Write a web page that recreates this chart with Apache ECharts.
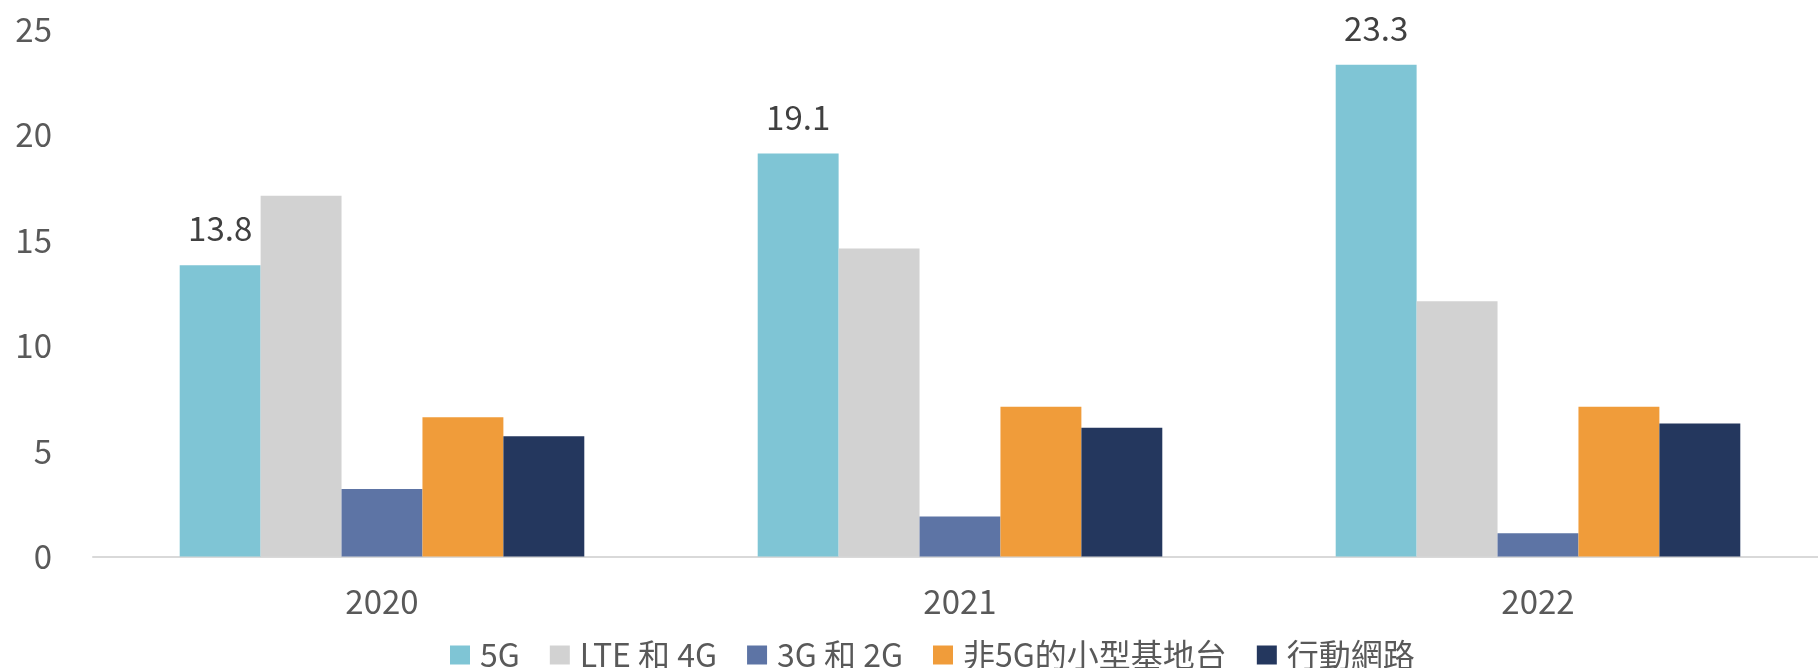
<!DOCTYPE html>
<html>
<head>
<meta charset="utf-8">
<title>全球基地台數量</title>
<script src="https://cdn.jsdelivr.net/npm/echarts@6/dist/echarts.min.js"></script>
<style>
  html, body { margin: 0; padding: 0; background: #ffffff; }
  #chart { width: 1818px; height: 668px; }
</style>
</head>
<body>
<div id="chart"></div>
<script>
// Years on the category axis
const years = ['2020', '2021', '2022'];

// Series values per year
const seriesNames = ['5G', 'LTE 和 4G', '3G 和 2G', '非5G的小型基地台', '行動網路'];
const values5G = [13.8, 19.1, 23.3];
const valuesLTE4G = [17.1, 14.6, 12.1];
const values3G2G = [3.2, 1.9, 1.1];
const valuesSmallCell = [6.6, 7.1, 7.1];
const valuesMobileNet = [5.7, 6.1, 6.3];

// Value axis ticks
const yTicks = [0, 5, 10, 15, 20, 25];

const colors = ['#7fc5d5', '#d2d2d2', '#5d74a5', '#f09c3a', '#24375e'];
const fontFamily = '"Noto Sans CJK TC", "Noto Sans", sans-serif';

const seriesData = [values5G, valuesLTE4G, values3G2G, valuesSmallCell, valuesMobileNet];

const series = seriesNames.map((name, i) => ({
  name: name,
  type: 'bar',
  data: seriesData[i],
  barGap: '0%',
  barCategoryGap: '30%',
  itemStyle: { color: colors[i] },
  label: i === 0 ? {
    show: true,
    position: 'top',
    distance: 20,
    color: '#404040',
    fontSize: 33,
    fontFamily: fontFamily
  } : { show: false }
}));

const chart = echarts.init(document.getElementById('chart'), null, { renderer: 'canvas' });

chart.setOption({
  animation: false,
  backgroundColor: '#ffffff',
  color: colors,
  grid: {
    left: 93,
    top: 29,
    width: 1734,
    bottom: 111.5,
    containLabel: false,
    outerBoundsMode: 'none'
  },
  legend: {
    data: seriesNames,
    left: 445,
    top: 634,
    itemWidth: 20,
    itemHeight: 19,
    itemGap: 30,
    icon: 'rect',
    textStyle: {
      color: '#595959',
      fontSize: 32,
      fontFamily: fontFamily,
      padding: [0, 0, 0, 5]
    }
  },
  xAxis: {
    type: 'category',
    data: years,
    axisLine: { show: true, lineStyle: { color: '#d9d9d9', width: 2 } },
    axisTick: { show: false },
    axisLabel: {
      color: '#595959',
      fontSize: 33,
      fontFamily: fontFamily,
      margin: 28
    },
    splitLine: { show: false }
  },
  yAxis: {
    type: 'value',
    min: yTicks[0],
    max: yTicks[yTicks.length - 1],
    interval: yTicks[1] - yTicks[0],
    axisLine: { show: false },
    axisTick: { show: false },
    splitLine: { show: false },
    axisLabel: {
      color: '#595959',
      fontSize: 33,
      fontFamily: fontFamily,
      margin: 41
    }
  },
  series: series
});
</script>
</body>
</html>
